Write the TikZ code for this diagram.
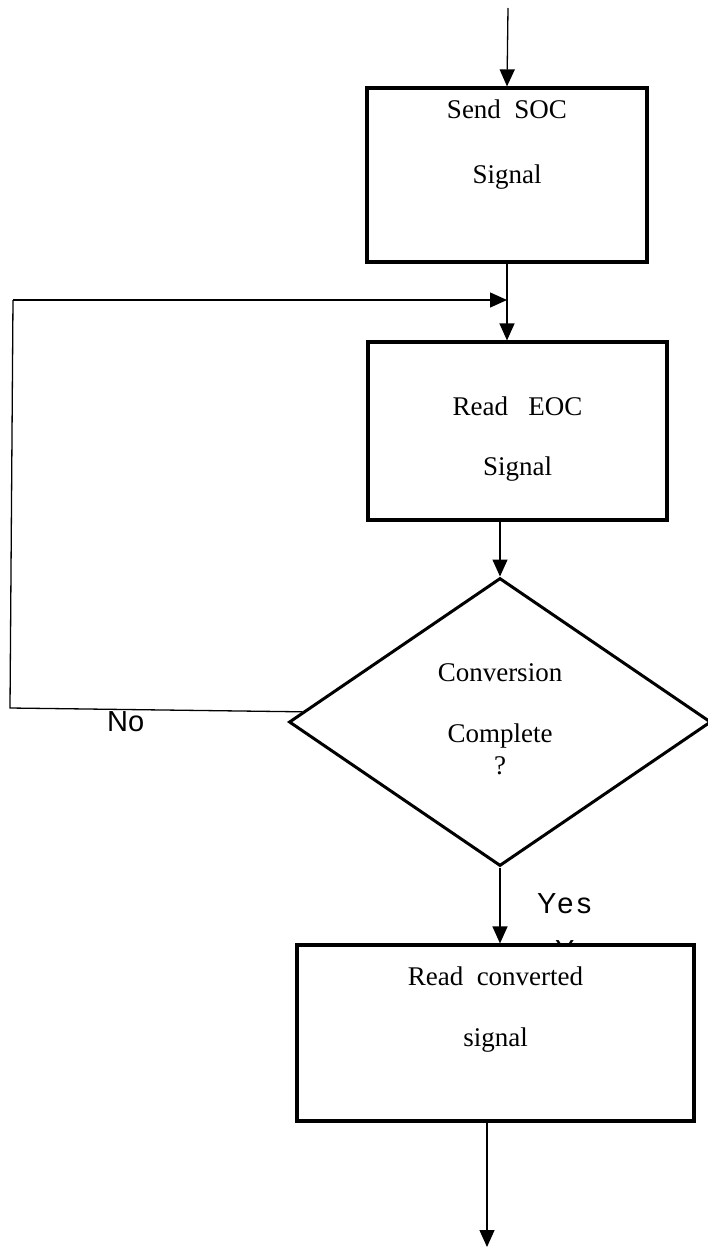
\documentclass[tikz,border=0pt]{standalone}
\usepackage{fontspec}
\setmainfont{Liberation Serif}
\newfontfamily\labelfont{Liberation Sans}
\usetikzlibrary{arrows.meta,shapes.geometric,calc}

% centred lines whose last baseline sits #1 above the node centre
\newcommand\textlines[3]{\raisebox{#1}[0pt][0pt]{\parbox[b]{#2}{\centering #3}}}

\tikzset{
  procbox/.style={draw, line width=3.2pt, rectangle, inner sep=0pt,
    font=\fontsize{27}{27}\selectfont},
  decision/.style={draw, line width=3pt, diamond, inner sep=0pt,
    font=\fontsize{27}{27}\selectfont},
  flow/.style={line width=1.3pt, -{Triangle[length=17pt,width=15pt]}},
  plain/.style={line width=1.3pt},
  answer/.style={font=\labelfont\fontsize{29}{29}\selectfont, inner sep=0pt}
}

\begin{document}
\begin{tikzpicture}[x=1pt, y=-1pt]
  \useasboundingbox (0,0) rectangle (708,1250);

  % process boxes and the decision
  \node[procbox, minimum width=280pt, minimum height=174pt] (soc) at (507,175)
    {\textlines{-8pt}{260pt}{Send\ \ SOC\\[38pt]Signal}};
  \node[procbox, minimum width=299pt, minimum height=178pt] (eoc) at (517.5,431)
    {\textlines{-44pt}{260pt}{Read\ \ \ EOC\\[33pt]Signal}};
  \node[decision, minimum width=422pt, minimum height=288pt] (dec) at (500,722)
    {\textlines{-52pt}{200pt}{Conversion\\[34pt]Complete\\[5pt]?}};
  \node[procbox, minimum width=397pt, minimum height=176pt] (conv) at (495.5,1033)
    {\textlines{-13pt}{300pt}{Read\ \ converted\\[34pt]signal}};

  % free ends and turning points
  \coordinate (start) at (508,8);
  \coordinate (stop) at (487,1247);
  \coordinate (merge) at (507,300);
  \coordinate (loopbot) at (10,708);
  \coordinate (looptop) at (13,300);
  \coordinate (noend) at ($(dec.west)!0.07!(dec.north)$);

  % main flow
  \draw[flow] (start) -- (soc.north);
  \draw[flow] (soc.south) -- (soc.south |- eoc.north);
  \draw[flow] (dec.north |- eoc.south) -- (dec.north);
  \draw[flow] (dec.south) -- (dec.south |- conv.north);
  \draw[flow] (conv.south -| stop) -- (stop);

  % loop back while the conversion is not complete
  \draw[plain] (noend) -- (loopbot) -- (looptop);
  \draw[flow] (looptop) -- (merge);

  % branch labels
  \node[answer, anchor=base west] (no) at (107,731) {No};
  \node[answer, anchor=base west] (yes) at (537,913)
    {\addfontfeature{LetterSpace=12}Yes};
  \begin{scope}
    \clip (540,925) rectangle (640,943);
    \node[answer, anchor=base west] (yes2) at (555,960)
      {\addfontfeature{LetterSpace=12}Yes};
  \end{scope}
\end{tikzpicture}
\end{document}
